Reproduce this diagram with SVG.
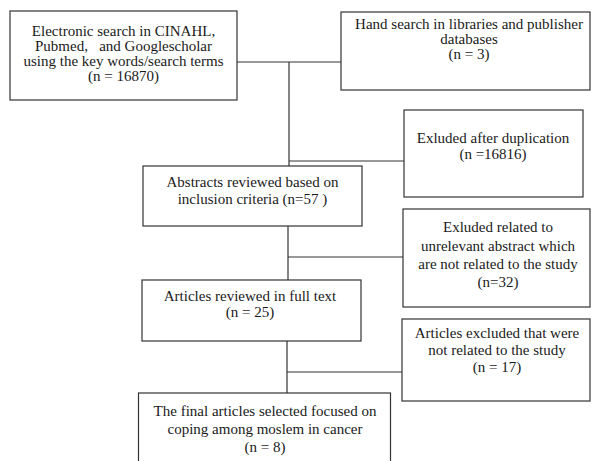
<svg xmlns="http://www.w3.org/2000/svg" width="591" height="461" viewBox="0 0 591 461">
<style>
rect{fill:#fff;stroke:#333;stroke-width:1.2}
text{font-family:"Liberation Serif","Times New Roman",serif;font-size:15px;fill:#1a1a1a;text-anchor:middle;white-space:pre}
.c line{stroke:#333;stroke-width:1.2}
</style>
<rect x="0" y="0" width="591" height="461" style="stroke:none"/>
<g class="c" id="connectors">
<line x1="237" y1="62" x2="341" y2="62"/>
<line x1="289" y1="62" x2="289" y2="166"/>
<line x1="289" y1="161" x2="404" y2="161"/>
<line x1="288" y1="226" x2="288" y2="280"/>
<line x1="288" y1="257" x2="403" y2="257"/>
<line x1="287" y1="341" x2="287" y2="393"/>
<line x1="287" y1="372" x2="402" y2="372"/>
</g>
<g id="n1"><rect x="10" y="11" width="227" height="89"/>
<text x="123.5" y="36">Electronic search in CINAHL,</text>
<text x="123.5" y="51" xml:space="preserve">Pubmed,   and Googlescholar</text>
<text x="123.5" y="66">using the key words/search terms</text>
<text x="123.5" y="81">(n = 16870)</text></g>
<g id="n2"><rect x="341" y="12" width="249" height="78"/>
<text x="469" y="29">Hand search in libraries and publisher</text>
<text x="469" y="44">databases</text>
<text x="469" y="59">(n = 3)</text></g>
<g id="n3"><rect x="404" y="110" width="179" height="87"/>
<text x="493" y="143">Exluded after duplication</text>
<text x="493" y="159">(n =16816)</text></g>
<g id="n4"><rect x="143" y="166" width="219" height="60"/>
<text x="252.5" y="187">Abstracts reviewed based on</text>
<text x="252.5" y="204">inclusion criteria (n=57 )</text></g>
<g id="n5"><rect x="403" y="209" width="187" height="98"/>
<text x="498" y="232">Exluded related to</text>
<text x="498" y="250.5">unrelevant abstract which</text>
<text x="498" y="269">are not related to the study</text>
<text x="498" y="287">(n=32)</text></g>
<g id="n6"><rect x="142" y="280" width="219" height="61"/>
<text x="250" y="301">Articles reviewed in full text</text>
<text x="250" y="317">(n = 25)</text></g>
<g id="n7"><rect x="402" y="319" width="188" height="82"/>
<text x="497" y="338">Articles excluded that were</text>
<text x="497" y="355">not related to the study</text>
<text x="497" y="372">(n = 17)</text></g>
<g id="n8"><rect x="138.5" y="393" width="252" height="75"/>
<text x="265" y="416">The final articles selected focused on</text>
<text x="265" y="434">coping among moslem in cancer</text>
<text x="265" y="452">(n = 8)</text></g>
</svg>
